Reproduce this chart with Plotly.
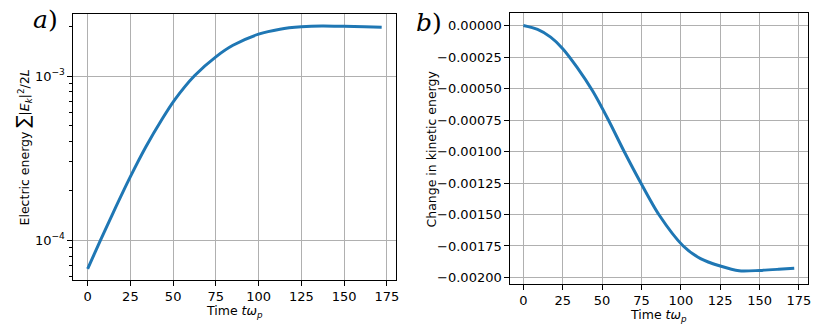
"""
Two-panel energy plot: electric energy growth (log) and kinetic energy change.
"""

import plotly.graph_objects as go

# panel a) electric energy sum |E_k|^2 / 2L
t_elec = [0, 7.6, 14.9, 25, 34, 43.5, 51, 62.5, 75, 85, 100, 112.5, 125, 137, 150, 162, 172]
e_elec = [6.7e-5, 1.005e-4, 1.47e-4, 2.44e-4, 3.70e-4, 5.46e-4, 7.19e-4, 1.005e-3, 1.31e-3,
          1.54e-3, 1.80e-3, 1.93e-3, 1.995e-3, 2.02e-3, 2.01e-3, 1.995e-3, 1.98e-3]

# panel b) change in kinetic energy
t_kin = [0, 9, 17.3, 25, 34, 44, 54, 64, 74.6, 86, 101.5, 112.5, 125, 137, 150, 162, 172]
d_kin = [0, -0.000031, -0.000092, -0.000183, -0.00033, -0.00052, -0.00075, -0.001,
         -0.00125, -0.0015, -0.00175, -0.00185, -0.001909, -0.001947, -0.001944,
         -0.001935, -0.001926]

x_ticks = [0, 25, 50, 75, 100, 125, 150, 175]
log_ticks = [1e-4, 1e-3]
log_labels = ['10<sup>−4</sup>', '10<sup>−3</sup>']
log_minor = [6e-5, 7e-5, 8e-5, 9e-5, 2e-4, 3e-4, 4e-4, 5e-4, 6e-4, 7e-4, 8e-4, 9e-4, 2e-3]
kin_ticks = [0, -0.00025, -0.0005, -0.00075, -0.001, -0.00125, -0.0015, -0.00175, -0.002]
kin_labels = ['0.00000'] + ['−%.5f' % abs(v) for v in kin_ticks[1:]]

W, H = 830, 336
FONT = 'DejaVu Sans'
BLUE = '#1f77b4'


def px(x):
    return x / W


def py(y):
    return 1 - y / H


axis_common = dict(
    showline=True, mirror=True, linecolor='black', linewidth=1,
    ticks='outside', ticklen=4.5, tickwidth=1, tickcolor='black',
    showgrid=True, gridcolor='#b0b0b0', gridwidth=1, zeroline=False,
    tickfont=dict(family=FONT, size=13, color='black'),
)

fig = go.Figure()

fig.add_trace(go.Scatter(x=t_elec, y=e_elec, mode='lines',
                         line=dict(color=BLUE, width=3, shape='spline', smoothing=0.8),
                         xaxis='x', yaxis='y', showlegend=False))
fig.add_trace(go.Scatter(x=t_kin, y=d_kin, mode='lines',
                         line=dict(color=BLUE, width=3, shape='spline', smoothing=0.8),
                         xaxis='x2', yaxis='y2', showlegend=False))

fig.update_layout(
    width=W, height=H,
    margin=dict(l=0, r=0, t=0, b=0),
    paper_bgcolor='white', plot_bgcolor='white',
    font=dict(family=FONT, color='black'),
    xaxis=dict(domain=[px(73.3), px(398.3)], anchor='y', range=[-8.6, 180.6],
               tickvals=x_ticks, **axis_common),
    yaxis=dict(domain=[py(281), py(14.3)], anchor='x', type='log',
               range=[-4.243, -2.6235], tickvals=log_ticks, ticktext=log_labels,
               minor=dict(tickmode='array', tickvals=log_minor, ticks='outside',
                          ticklen=2.5, tickcolor='black', showgrid=False),
               **axis_common),
    xaxis2=dict(domain=[px(512.3), px(811.7)], anchor='y2', range=[-8.6, 180.6],
                tickvals=x_ticks, **axis_common),
    yaxis2=dict(domain=[py(285), py(13.3)], anchor='x2',
                range=[-0.002053, 0.0000978], tickvals=kin_ticks, ticktext=kin_labels,
                **axis_common),
)

title_font = dict(family=FONT, size=12.5, color='black')
time_label = 'Time <i>tω</i><sub><i>p</i></sub>'

annotations = [
    dict(x=px(235.5), y=py(312), text=time_label, font=title_font),
    dict(x=px(661.5), y=py(316), text=time_label, font=title_font),
    dict(x=px(23), y=py(148), textangle=-90, font=title_font,
         text="Electric energy <span style='font-size:18px'>∑</span>"
              "|<i>E</i><sub><i>k</i></sub>|<sup>2</sup>/2<i>L</i>"),
    dict(x=px(434), y=py(149), textangle=-90, font=title_font,
         text='Change in kinetic energy'),
    dict(x=px(46), y=py(20), text='<i>a</i>)',
         font=dict(family='DejaVu Serif', size=25, color='black')),
    dict(x=px(431), y=py(23), text='<i>b</i>)',
         font=dict(family='DejaVu Serif', size=25, color='black')),
]
for a in annotations:
    a.update(xref='paper', yref='paper', showarrow=False,
             xanchor='center', yanchor='middle')
fig.update_layout(annotations=annotations)

# drop the default body margin so the figure sits at the page origin
fig.write_html("out.html", config={'displayModeBar': False},
               post_script="document.body.style.margin='0';")
